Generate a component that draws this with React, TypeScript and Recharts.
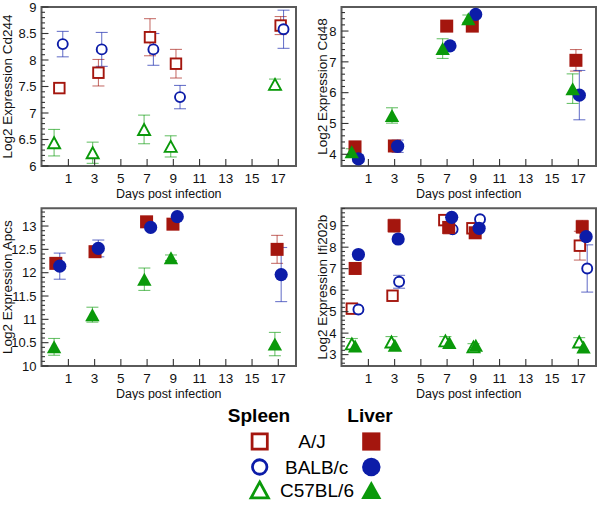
import React from 'react';
import { ScatterChart, Scatter, XAxis, YAxis, ErrorBar, ReferenceArea } from 'recharts';

const RED = '#a4160e';
const BLUE = '#0c1ca8';
const GREEN = '#0a990a';
const FONT = '"Liberation Sans", Arial, Helvetica, sans-serif';

// ---- axes ----
const xTicks = [1, 3, 5, 7, 9, 11, 13, 15, 17];
const xDomain: [number, number] = [-1.05, 18.35];
const xTitle = 'Days post infection';

const cd244Ticks = [6, 6.5, 7, 7.5, 8, 8.5, 9];
const cd48Ticks = [4, 5, 6, 7, 8];
const apcsTicks = [10, 10.5, 11, 11.5, 12, 12.5, 13];
const ifiTicks = [3, 4, 5, 6, 7, 8, 9];

// ---- data: [day (with jitter), log2 expression, error] ----
type Pt = [number, number, number];

// Cd244 (spleen)
const cd244SpleenAJ: Pt[] = [[0.31, 7.47, 0], [3.29, 7.76, 0.25], [7.22, 8.43, 0.35], [9.2, 7.93, 0.27], [17.18, 8.65, 0.17]];
const cd244SpleenBALB: Pt[] = [[0.57, 8.3, 0.24], [3.54, 8.2, 0.32], [7.48, 8.2, 0.3], [9.51, 7.3, 0.22], [17.4, 8.58, 0.36]];
const cd244SpleenC57: Pt[] = [[-0.09, 6.44, 0.25], [2.85, 6.25, 0.2], [6.77, 6.69, 0.27], [8.8, 6.37, 0.2], [16.75, 7.54, 0.1]];

// Cd48 (liver)
const cd48LiverAJ: Pt[] = [[-0.02, 4.24, 0], [2.98, 4.27, 0], [6.97, 8.16, 0], [8.92, 8.16, 0], [16.82, 7.05, 0.35]];
const cd48LiverBALB: Pt[] = [[0.24, 3.85, 0], [3.23, 4.26, 0.2], [7.22, 7.52, 0], [9.18, 8.54, 0], [17.08, 5.92, 0.8]];
const cd48LiverC57: Pt[] = [[-0.27, 4.08, 0.1], [2.8, 5.26, 0.25], [6.66, 7.43, 0.32], [8.62, 8.4, 0.12], [16.57, 6.13, 0.48]];

// Apcs (liver)
const apcsLiverAJ: Pt[] = [[0.04, 12.2, 0], [3.03, 12.45, 0], [6.96, 13.09, 0], [8.97, 13.04, 0], [16.91, 12.5, 0.3]];
const apcsLiverBALB: Pt[] = [[0.34, 12.14, 0.28], [3.28, 12.52, 0.18], [7.27, 12.97, 0], [9.3, 13.2, 0], [17.22, 11.96, 0.58]];
const apcsLiverC57: Pt[] = [[-0.09, 10.41, 0.18], [2.83, 11.1, 0.16], [6.79, 11.86, 0.24], [8.82, 12.32, 0.06], [16.74, 10.47, 0.25]];

// Ifi202b (spleen + liver)
const ifiSpleenAJ: Pt[] = [[-0.26, 5.14, 0], [2.84, 5.74, 0], [6.79, 9.26, 0], [8.93, 8.88, 0], [17.12, 8.07, 0.67]];
const ifiSpleenBALB: Pt[] = [[0.24, 5.1, 0], [3.34, 6.39, 0.3], [7.42, 8.83, 0], [9.51, 9.3, 0], [17.68, 7.01, 1.1]];
const ifiSpleenC57: Pt[] = [[-0.26, 3.5, 0.25], [2.76, 3.59, 0.25], [6.87, 3.64, 0.2], [9.01, 3.36, 0.15], [17.07, 3.59, 0.2]];
const ifiLiverAJ: Pt[] = [[-0.01, 7.01, 0], [2.96, 9.0, 0.3], [7.12, 8.92, 0.3], [9.14, 8.67, 0], [17.3, 8.95, 0.3]];
const ifiLiverBALB: Pt[] = [[0.24, 7.66, 0], [3.27, 8.38, 0], [7.35, 9.39, 0], [9.44, 8.88, 0], [17.6, 8.49, 0]];
const ifiLiverC57: Pt[] = [[-0.01, 3.4, 0], [3.02, 3.44, 0], [7.17, 3.56, 0], [9.19, 3.44, 0], [17.4, 3.36, 0]];

// ---- legend ----
const strains = ['A/J', 'BALB/c', 'C57BL/6'];
const tissues = ['Spleen', 'Liver'];

type Kind = 'square' | 'circle' | 'triangle';

function Marker({ kind, filled, color, cx, cy, scale = 1 }: { kind: Kind; filled: boolean; color: string; cx: number; cy: number; scale?: number }) {
  const fill = filled ? color : '#ffffff';
  const sw = filled ? 0 : 1.9 * scale;
  if (kind === 'square') {
    const s = (filled ? 13 : 10.5) * scale;
    return <rect x={cx - s / 2} y={cy - s / 2} width={s} height={s} fill={fill} stroke={color} strokeWidth={sw} />;
  }
  if (kind === 'circle') {
    const r = (filled ? 6.6 : 5) * scale;
    return <circle cx={cx} cy={cy} r={r} fill={fill} stroke={color} strokeWidth={sw} />;
  }
  const hw = (filled ? 7.2 : 6) * scale;
  const h = (filled ? 13 : 11) * scale;
  const pts = `${cx},${cy - h / 2} ${cx + hw},${cy + h / 2} ${cx - hw},${cy + h / 2}`;
  return <polygon points={pts} fill={fill} stroke={color} strokeWidth={sw} strokeLinejoin="miter" />;
}

function withMinors(majors: number[], domain: [number, number]) {
  const step = (majors[1] - majors[0]) / 5;
  const out: number[] = [];
  let v = majors[0];
  while (v - step >= domain[0] - 1e-9) v -= step;
  for (; v <= domain[1] + 1e-9; v += step) out.push(Math.round(v * 1000) / 1000);
  return out;
}

function YTick(props: any) {
  const { x, y, payload, majors } = props;
  const v = payload.value;
  const isMajor = majors.some((m: number) => Math.abs(m - v) < 1e-6);
  return (
    <g>
      <line x1={x} x2={x + (isMajor ? 7 : 3.5)} y1={y} y2={y} stroke="#333" strokeWidth={1.1} />
      {isMajor && (
        <text x={x - 5} y={y} dy="0.36em" textAnchor="end" fontSize={13} fill="#111" fontFamily={FONT}>
          {String(v)}
        </text>
      )}
    </g>
  );
}

function XTick(props: any) {
  const { x, y, payload } = props;
  return (
    <g>
      <line x1={x} x2={x} y1={y} y2={y - 7} stroke="#333" strokeWidth={1.1} />
      <text x={x} y={y + 17} textAnchor="middle" fontSize={13.5} fill="#111" fontFamily={FONT}>
        {String(payload.value)}
      </text>
    </g>
  );
}

type Series = { data: Pt[]; kind: Kind; filled: boolean; color: string };
type Panel = {
  left: number; top: number; marginTop: number; yLabel: string; labelX: number;
  yDomain: [number, number]; yTicks: number[]; series: Series[];
};

const panels: Panel[] = [
  {
    left: 0, top: 0, marginTop: 7, yLabel: 'Log2 Expression Cd244', labelX: 6.8,
    yDomain: [6, 9], yTicks: cd244Ticks,
    series: [
      { data: cd244SpleenAJ, kind: 'square', filled: false, color: RED },
      { data: cd244SpleenBALB, kind: 'circle', filled: false, color: BLUE },
      { data: cd244SpleenC57, kind: 'triangle', filled: false, color: GREEN },
    ],
  },
  {
    left: 300, top: 0, marginTop: 7, yLabel: 'Log2 Expression Cd48', labelX: 22,
    yDomain: [3.62, 8.78], yTicks: cd48Ticks,
    series: [
      { data: cd48LiverAJ, kind: 'square', filled: true, color: RED },
      { data: cd48LiverBALB, kind: 'circle', filled: true, color: BLUE },
      { data: cd48LiverC57, kind: 'triangle', filled: true, color: GREEN },
    ],
  },
  {
    left: 0, top: 200, marginTop: 8.3, yLabel: 'Log2 Expression Apcs', labelX: 6.8,
    yDomain: [10, 13.38], yTicks: apcsTicks,
    series: [
      { data: apcsLiverAJ, kind: 'square', filled: true, color: RED },
      { data: apcsLiverBALB, kind: 'circle', filled: true, color: BLUE },
      { data: apcsLiverC57, kind: 'triangle', filled: true, color: GREEN },
    ],
  },
  {
    left: 300, top: 200, marginTop: 8.3, yLabel: 'Log2 Expression Ifi202b', labelX: 22,
    yDomain: [2.47, 9.81], yTicks: ifiTicks,
    series: [
      { data: ifiSpleenAJ, kind: 'square', filled: false, color: RED },
      { data: ifiSpleenBALB, kind: 'circle', filled: false, color: BLUE },
      { data: ifiSpleenC57, kind: 'triangle', filled: false, color: GREEN },
      { data: ifiLiverAJ, kind: 'square', filled: true, color: RED },
      { data: ifiLiverBALB, kind: 'circle', filled: true, color: BLUE },
      { data: ifiLiverC57, kind: 'triangle', filled: true, color: GREEN },
    ],
  },
];

function PanelChart({ p }: { p: Panel }) {
  const allTicks = withMinors(p.yTicks, p.yDomain);
  return (
    <div style={{ position: 'absolute', left: p.left, top: p.top }}>
      <ScatterChart width={300} height={200} margin={{ top: p.marginTop, right: 4, bottom: 0, left: 0 }}>
        <XAxis
          type="number" dataKey="x" domain={xDomain} ticks={xTicks} allowDataOverflow interval={0}
          height={34} tickSize={0} tickMargin={0} tickLine={false} axisLine={false}
          tick={<XTick />}
          label={{ value: xTitle, position: 'insideBottom', offset: 2, fontSize: 12.5, fill: '#111', fontFamily: FONT }}
        />
        <YAxis
          type="number" dataKey="y" domain={p.yDomain} ticks={allTicks} allowDataOverflow interval={0}
          width={41.5} tickSize={0} tickMargin={0} tickLine={false} axisLine={false}
          tick={<YTick majors={p.yTicks} />}
          label={(lp: any) => {
            const vb = lp.viewBox || {};
            const cy = (vb.y || 0) + (vb.height || 0) / 2;
            return (
              <text x={p.labelX} y={cy} dy="0.36em" textAnchor="middle" fontSize={13.5} fill="#111" fontFamily={FONT}
                transform={`rotate(-90, ${p.labelX}, ${cy})`}>
                {p.yLabel}
              </text>
            );
          }}
        />
        {p.series.map((s, i) => (
          <Scatter
            key={i}
            data={s.data.map(([x, y, err]) => ({ x, y, err }))}
            isAnimationActive={false}
            shape={(sp: any) => <Marker kind={s.kind} filled={s.filled} color={s.color} cx={sp.cx} cy={sp.cy} />}
          >
            <ErrorBar dataKey="err" direction="y" width={6} stroke={s.color} strokeOpacity={0.6} strokeWidth={1.1} />
          </Scatter>
        ))}
        <ReferenceArea x1={xDomain[0]} x2={xDomain[1]} y1={p.yDomain[0]} y2={p.yDomain[1]} fill="none" fillOpacity={0} stroke="#5a5a5a" strokeWidth={2} />
      </ScatterChart>
    </div>
  );
}

function Legend() {
  const kinds: Kind[] = ['square', 'circle', 'triangle'];
  const colors = [RED, BLUE, GREEN];
  const rowY = [441.5, 467, 490];
  const textX = [312, 316.7, 317];
  return (
    <svg width={601} height={106} style={{ position: 'absolute', left: 0, top: 400 }}>
      <g transform="translate(0,-400)" fontFamily={FONT} fill="#000">
        <text x={259} y={421.7} textAnchor="middle" fontSize={19} fontWeight="bold">{tissues[0]}</text>
        <text x={370} y={421.7} textAnchor="middle" fontSize={19} fontWeight="bold">{tissues[1]}</text>
        {strains.map((s, i) => (
          <g key={s}>
            <Marker kind={kinds[i]} filled={false} color={colors[i]} cx={259.7} cy={rowY[i]} scale={1.45} />
            <text x={textX[i]} y={rowY[i]} dy="0.36em" textAnchor="middle" fontSize={19}>{s}</text>
            <Marker kind={kinds[i]} filled={true} color={colors[i]} cx={371.3} cy={rowY[i]} scale={1.4} />
          </g>
        ))}
      </g>
    </svg>
  );
}

export default function App() {
  return (
    <div style={{ position: 'absolute', left: 0, top: 0, width: 601, height: 506, background: '#ffffff', fontFamily: FONT, overflow: 'hidden' }}>
      {panels.map((p, i) => <PanelChart key={i} p={p} />)}
      <Legend />
    </div>
  );
}
